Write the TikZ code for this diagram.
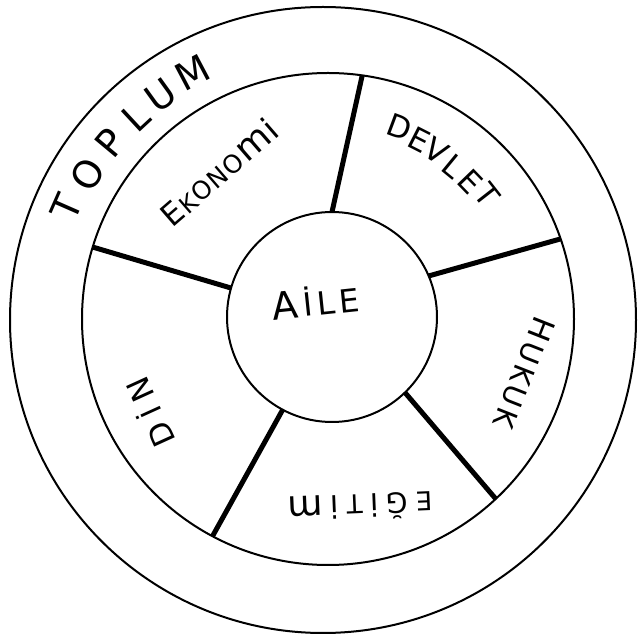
\documentclass[tikz,border=0pt]{standalone}
\usepackage{fontspec}
\setmainfont{DejaVu Sans}
\usetikzlibrary{calc}
\newcommand\arcl[6]{\node[inner sep=0pt, font=\fontsize{#5}{#5}\selectfont, rotate=#2-90] (#6) at ($(#1)+(#2:#3)$) {#4};}
\newcommand\fs[2]{{\fontsize{#1}{#1}\selectfont #2}}
\begin{document}
\begin{tikzpicture}[x=1pt,y=1pt,
  ring/.style={draw, circle, line width=2pt, inner sep=0pt, outer sep=0pt},
  spoke/.style={line width=5pt},
  word/.style={inner sep=0pt}]
\useasboundingbox (0,0) rectangle (638,635);
\node[ring, minimum size=626pt] (outer) at (323,315) {};
\node[ring, minimum size=492pt] (mid) at (328,316) {};
\node[ring, minimum size=210pt] (inner) at (332,318) {};
\coordinate (c) at (328,316);
\coordinate (co) at (323,315);
% spokes
\draw[spoke] (inner.90) -- (mid.82);
\draw[spoke] (inner.23) -- (mid.19);
\draw[spoke] (inner.-46) -- (mid.-47);
\draw[spoke] (inner.-118) -- (mid.-118);
\draw[spoke] (inner.164) -- (mid.163);
% TOPLUM (curved)
\arcl{co}{156.3}{280}{T}{38}{t1}
\arcl{co}{148.4}{277}{O}{38}{t2}
\arcl{co}{140.2}{277}{P}{38}{t3}
\arcl{co}{132.8}{276}{L}{38}{t4}
\arcl{co}{125.8}{277}{U}{38}{t5}
\arcl{co}{117.8}{280}{M}{38}{t6}
% DEVLET (curved)
\arcl{c}{69.5}{205}{D}{31}{d1}
\arcl{c}{63.0}{201}{E}{31}{d2}
\arcl{c}{57.0}{200}{V}{31}{d3}
\arcl{c}{50.6}{198}{L}{31}{d4}
\arcl{c}{44.0}{198}{E}{31}{d5}
\arcl{c}{38.0}{202}{T}{31}{d6}
% EKONOMi
\node[word, rotate=40.9] (ekonomi) at (219,463)
  {\fs{31}{E}\hspace{1.1pt}\fs{24}{K}\hspace{1.1pt}\fs{25}{O}\hspace{1.1pt}\fs{25}{N}\hspace{1.1pt}\fs{25}{O}\hspace{1.1pt}\fs{36}{m}\hspace{1.1pt}\fs{33}{i}};
% HUKUK
\node[word, rotate=-111.5] (hukuk) at (524,262)
  {\fs{31}{H}\hspace{3.2pt}\fs{29}{U}\hspace{3.2pt}\fs{29}{K}\hspace{3.2pt}\fs{29}{U}\hspace{3.2pt}\fs{29}{K}};
% EGiTim
\node[word, rotate=182.4] (egitim) at (360,128)
  {\fs{26}{E}\hspace{7.7pt}\fs{28}{Ğ}\hspace{7.7pt}\fs{31}{i}\hspace{7.7pt}\fs{26}{T}\hspace{7.7pt}\fs{31}{i}\hspace{7.7pt}\fs{36}{m}};
% DIN
\node[word, rotate=114.5] (din) at (149,222)
  {\fs{31}{D}\hspace{9pt}\fs{29}{İ}\hspace{9pt}\fs{31}{N}};
% AILE
\node[word, rotate=6] (aile) at (316,334)
  {\fs{38}{A}\hspace{4.7pt}\fs{32}{İ}\hspace{4.7pt}\fs{32}{L}\hspace{4.7pt}\fs{32}{E}};
\end{tikzpicture}
\end{document}
